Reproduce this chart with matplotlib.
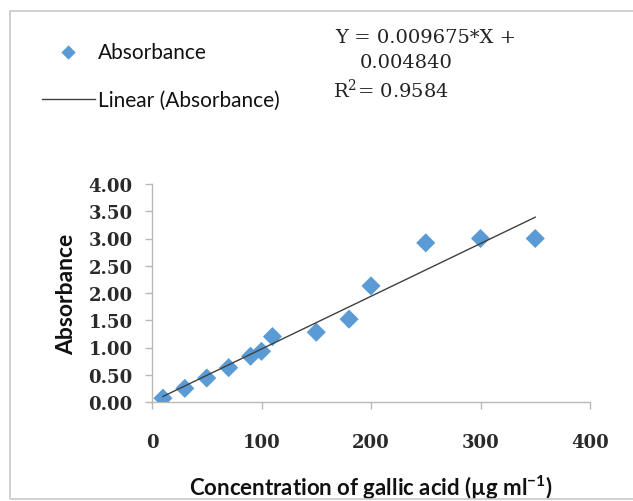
import matplotlib
matplotlib.use("Agg")
import matplotlib.pyplot as plt
import numpy as np
from matplotlib.patches import Rectangle

conc = [10, 30, 50, 70, 90, 100, 110, 150, 180, 200, 250, 300, 350]
absorb = [0.07, 0.25, 0.44, 0.63, 0.84, 0.93, 1.20, 1.28, 1.52, 2.13, 2.92, 3.00, 3.00]
slope = 0.009675
intercept = 0.004840
r2 = 0.9584
xticks = [0, 100, 200, 300, 400]
yticks = [0.0, 0.5, 1.0, 1.5, 2.0, 2.5, 3.0, 3.5, 4.0]

W, H = 633, 502
fig = plt.figure(figsize=(W / 100, H / 100), dpi=100)
fig.patch.set_facecolor("white")

# outer border
fig.patches.append(Rectangle((10 / W, 2 / H), 1.2, 1 - 14 / H, transform=fig.transFigure,
                             fill=False, edgecolor="#c8c8c8", linewidth=1.2))

ax = fig.add_axes([152 / W, 1 - 403 / H, 438 / W, 218 / H])
ax.set_xlim(0, 400)
ax.set_ylim(0, 4)
for s in ["top", "right"]:
    ax.spines[s].set_visible(False)
for s in ["left", "bottom"]:
    ax.spines[s].set_color("#b8b8b8")
    ax.spines[s].set_linewidth(1.0)

sc = ax.scatter(conc, absorb, marker="D", s=95, color="#5b9bd5", edgecolors="none",
                zorder=3, label="Absorbance")
xl = np.array([min(conc), max(conc)])
ln, = ax.plot(xl, slope * xl + intercept, color="#404040", linewidth=1.0, zorder=4,
              label="Linear (Absorbance)")

ax.set_xticks(xticks)
ax.set_yticks(yticks)
ax.set_yticklabels([f"{v:.2f}" for v in yticks])
ax.tick_params(axis="both", direction="out", length=5, color="#b8b8b8", width=1.0,
               labelsize=13)
ax.tick_params(axis="y", pad=9)
ax.tick_params(axis="x", pad=17)
for lab in ax.get_xticklabels() + ax.get_yticklabels():
    lab.set_family("DejaVu Serif")
    lab.set_fontweight("bold")
    lab.set_color("#2a2a2a")

ax.set_xlabel("Concentration of gallic acid (µg ml$^{\\mathregular{-1}}$)", family="Lato",
              fontweight="bold", fontsize=16, labelpad=16, color="#111111")
ax.set_ylabel("Absorbance", family="Lato", fontweight="bold", fontsize=16.5, labelpad=8,
              color="#111111")

leg = fig.legend(handles=[sc, ln], loc="upper left", bbox_to_anchor=(42 / W, 1 - 43 / H),
                 frameon=False, prop={"family": "Lato", "size": 15},
                 handlelength=2.55, handletextpad=0.12, labelspacing=1.35, borderpad=0,
                 borderaxespad=0, scatterpoints=1, markerscale=0.75)
for t in leg.get_texts():
    t.set_color("#111111")

fig.text(335 / W, 1 - 38 / H, "Y = 0.009675*X +", family="DejaVu Serif", fontsize=14,
         va="center", ha="left", color="#222222")
fig.text(406 / W, 1 - 63 / H, f"{intercept:.6f}", family="DejaVu Serif", fontsize=14,
         va="center", ha="center", color="#222222")
fig.text(333 / W, 1 - 90 / H, f"R$^{{\\mathregular{{2}}}}$= {r2}", family="DejaVu Serif",
         fontsize=14, va="center", ha="left", color="#222222")

fig.savefig("out.png", dpi=100)
